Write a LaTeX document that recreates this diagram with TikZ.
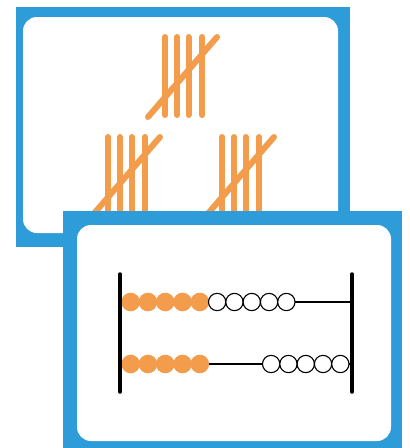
\documentclass[tikz,border=0pt]{standalone}
\usetikzlibrary{positioning}
\definecolor{cardblue}{RGB}{46,156,217}
\definecolor{tallyorange}{RGB}{243,156,76}
\tikzset{
    card/.style={fill=cardblue},
    cardface/.style={fill=white,rounded corners=14pt},
    tally/.style={draw=tallyorange,line width=6pt,line cap=round},
    bead/.style={circle,minimum size=17.3pt,inner sep=0pt},
    counted/.style={bead,fill=tallyorange,minimum size=18.6pt},
    free/.style={bead,draw=black,line width=1.1pt,fill=white},
    bar/.style={line width=3.5pt,line cap=round},
    rod/.style={line width=1.2pt}
}

\begin{document}
\begin{tikzpicture}[x=1pt,y=-1pt]
    \useasboundingbox (0,0) rectangle (410,448);
    \fill[card] (16,7) rectangle (350,247);
    \fill[cardface] (23,17) rectangle (338,233);
    \foreach \x/\y in {165/37,108/137,222/137}{
        \foreach \d in {0,12,23.5,37}
            \draw[tally] (\x+\d,\y) -- (\x+\d,\y+78);
        \draw[tally] (\x-17,\y+80) -- (\x+52,\y);
    }
    \fill[card] (63,211) rectangle (402,448);
    \fill[cardface] (77,225) rectangle (391,441);
    \coordinate (lt) at (120,274);
    \coordinate (lb) at (120,392);
    \coordinate (rt) at (352,274);
    \coordinate (rb) at (352,392);
    \coordinate (top l) at (120,302);
    \coordinate (top r) at (352,302);
    \coordinate (bot l) at (120,364);
    \coordinate (bot r) at (352,364);
    \draw[rod] (top l) -- (top r);
    \draw[rod] (bot l) -- (bot r);
    \foreach \i in {1,...,5}{
        \node[counted] (t\i) at (113.35+17.3*\i,302) {};
        \node[counted] (b\i) at (113.35+17.3*\i,364) {};
    }
    \foreach \i in {6,...,10}{
        \node[free] (t\i) at (113.35+17.3*\i,302) {};
        \node[free] (b\i) at (167.35+17.3*\i,364) {};
    }
    \draw[bar] (lt) -- (lb);
    \draw[bar] (rt) -- (rb);
\end{tikzpicture}
\end{document}
